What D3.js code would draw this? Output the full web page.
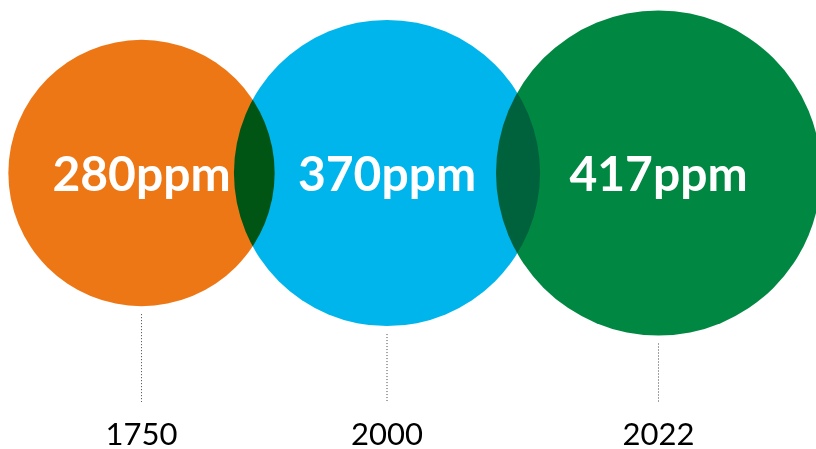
<!DOCTYPE html>
<html>
<head>
<meta charset="utf-8">
<script src="https://cdn.jsdelivr.net/npm/d3@7"></script>
<style>
    html, body { margin: 0; padding: 0; background: #fff; }
    svg { display: block; }
</style>
</head>
<body>
<div id="chart"></div>
<script>
// CO2 concentration, one circle per year (area ~ ppm)
const years = ["1750", "2000", "2022"];
const ppm = [280, 370, 417];
const colors = ["#EE7715", "#00B5EC", "#008842"];

const width = 816;
const height = 449;

const svg = d3.select("#chart")
    .append("svg")
    .attr("width", width)
    .attr("height", height);

const data = years.map((y, i) => ({ year: y, value: ppm[i], color: colors[i] }));

// circle radius from value (area proportional)
const r = d3.scaleSqrt()
    .domain([0, d3.max(ppm)])
    .range([0, 162.5]);

// horizontal placement of the circle centres
const x = d3.scalePoint()
    .domain(years)
    .range([141.5, 658.5]);

// centres are not evenly spaced in the original, nudge the middle one
const cx = d => {
    const i = years.indexOf(d.year);
    if (i === 1) return x(d.year) - 13;
    return x(d.year);
};
const cy = 173;

const g = svg.append("g").style("isolation", "isolate");

g.selectAll("circle")
    .data(data)
    .join("circle")
    .attr("cx", cx)
    .attr("cy", cy)
    .attr("r", d => r(d.value))
    .attr("fill", d => d.color)
    .style("mix-blend-mode", "multiply");

g.selectAll("text.value")
    .data(data)
    .join("text")
    .attr("class", "value")
    .attr("x", cx)
    .attr("y", cy + 18)
    .attr("text-anchor", "middle")
    .attr("font-family", "Lato, sans-serif")
    .attr("font-weight", 700)
    .attr("font-size", "48px")
    .attr("fill", "#fff")
    .text(d => d.value + "ppm");

// dotted leader lines
svg.selectAll("line.leader")
    .data(data)
    .join("line")
    .attr("class", "leader")
    .attr("x1", cx)
    .attr("x2", cx)
    .attr("y1", d => cy + r(d.value) + 8)
    .attr("y2", 402)
    .attr("stroke", "#444")
    .attr("stroke-width", 1)
    .attr("stroke-dasharray", "1,2");

// year labels
svg.selectAll("text.year")
    .data(data)
    .join("text")
    .attr("class", "year")
    .attr("x", cx)
    .attr("y", 445)
    .attr("text-anchor", "middle")
    .attr("font-family", "Lato, sans-serif")
    .attr("font-size", "31px")
    .attr("fill", "#000")
    .text(d => d.year);
</script>
</body>
</html>
